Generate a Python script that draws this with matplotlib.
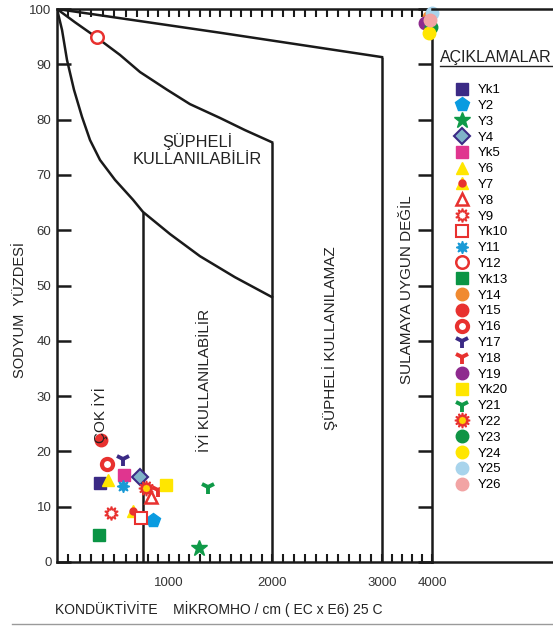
import numpy as np
import matplotlib.pyplot as plt
from matplotlib.lines import Line2D
from matplotlib.legend_handler import HandlerTuple

plt.rcParams['font.family'] = ['Liberation Sans', 'DejaVu Sans']

# water samples: conductivity (micromho/cm) and sodium percent
samples = ['Yk1', 'Y2', 'Y3', 'Y4', 'Yk5', 'Y6', 'Y7', 'Y8', 'Y9', 'Yk10',
           'Y11', 'Y12', 'Yk13', 'Y14', 'Y15', 'Y16', 'Y17', 'Y18', 'Y19',
           'Yk20', 'Y21', 'Y22', 'Y23', 'Y24', 'Y25', 'Y26']
ec = [375, 850, 1293, 724, 587, 447, 660, 832, 468, 730,
      573, 349, 369, 3940, 384, 433, 578, 898, 3860,
      973, 1383, 779, 3980, 3940, 4000, 3960]
na = [14.2, 7.6, 2.5, 15.4, 15.7, 14.8, 9.3, 11.7, 8.8, 7.9,
      13.7, 94.9, 4.9, 98.6, 22.1, 17.8, 18.7, 13.0, 97.5,
      13.9, 13.6, 13.3, 96.8, 95.6, 99.3, 98.0]

# class boundaries of the Wilcox diagram
curve1_ec = [0, 44, 87, 148, 218, 288, 375, 506, 663, 750, 1012, 1302, 1641, 2000]
curve1_na = [100, 96.2, 90.8, 85.4, 80.5, 76.3, 72.7, 69.1, 65.5, 63.3, 59.3, 55.3, 51.5, 47.9]
curve2_ec = [0, 157, 349, 549, 724, 983, 1205, 1496, 1738, 2000]
curve2_na = [100, 97.6, 94.8, 91.7, 88.6, 85.4, 82.8, 80.3, 78.1, 75.9]
curve3_ec = [0, 1500, 3000]
curve3_na = [100, 95.7, 91.3]
vline_ec = [750, 2000, 3000]
vline_top = [63.3, 75.9, 91.3]

# axis is stretched up to 3000 and squeezed after
EC_KNOTS = [0, 750, 2000, 3000, 4000, 8000]
PX_KNOTS = [0, 86, 215, 325, 375, 575]


def fwd(x):
    return np.interp(x, EC_KNOTS, PX_KNOTS)


def inv(p):
    return np.interp(p, PX_KNOTS, EC_KNOTS)


NAVY = '#3b2a85'
RED = '#e8312f'
GREEN = '#0f9a48'
YELLOW = '#ffe600'
BLUE = '#0a9be0'

styles = {
    'Yk1': dict(marker='s', ms=8, mfc=NAVY, mec=NAVY),
    'Y2': dict(marker='p', ms=10, mfc=BLUE, mec=BLUE),
    'Y3': dict(marker='*', ms=12, mfc=GREEN, mec=GREEN),
    'Y4': dict(marker='D', ms=8, mfc='#7fb3c8', mec=NAVY, mew=1.5),
    'Yk5': dict(marker='s', ms=8, mfc='#e0358f', mec='#e0358f'),
    'Y6': dict(marker='^', ms=9, mfc=YELLOW, mec=YELLOW),
    'Y7': dict(marker='^', ms=9, mfc=YELLOW, mec=YELLOW),
    'Y8': dict(marker='^', ms=8, mfc='white', mec=RED, mew=1.8),
    'Y9': dict(marker=(10, 1, 0), ms=10, mfc='white', mec=RED, mew=1.2),
    'Yk10': dict(marker='s', ms=8, mfc='white', mec=RED, mew=1.5),
    'Y11': dict(marker=(8, 1, 0), ms=9, mfc='#1a9ad6', mec='#1a9ad6'),
    'Y12': dict(marker='o', ms=9, mfc='white', mec=RED, mew=1.8),
    'Yk13': dict(marker='s', ms=8, mfc='#0a9444', mec='#0a9444'),
    'Y14': dict(marker='o', ms=9, mfc='#f08a30', mec='#f08a30'),
    'Y15': dict(marker='o', ms=9, mfc=RED, mec=RED),
    'Y16': dict(marker='o', ms=8, mfc='white', mec=RED, mew=3),
    'Y17': dict(marker='1', ms=10, mfc=NAVY, mec=NAVY, mew=2.8),
    'Y18': dict(marker='1', ms=10, mfc=RED, mec=RED, mew=2.8),
    'Y19': dict(marker='o', ms=9, mfc='#8e2a8e', mec='#8e2a8e'),
    'Yk20': dict(marker='s', ms=8, mfc=YELLOW, mec=YELLOW),
    'Y21': dict(marker='1', ms=10, mfc=GREEN, mec=GREEN, mew=2.8),
    'Y22': dict(marker=(12, 1, 0), ms=11, mfc='#ffd400', mec=RED, mew=1.2),
    'Y23': dict(marker='o', ms=9, mfc='#0f9444', mec='#0f9444'),
    'Y24': dict(marker='o', ms=9, mfc=YELLOW, mec=YELLOW),
    'Y25': dict(marker='o', ms=9, mfc='#a8d4ec', mec='#a8d4ec'),
    'Y26': dict(marker='o', ms=9, mfc='#f2a4a4', mec='#f2a4a4'),
}
dot7 = dict(marker='o', ms=5, mfc=RED, mec=RED)

fig = plt.figure(figsize=(5.53, 6.28), dpi=100)
ax = fig.add_axes([57 / 553, 66 / 628, 375 / 553, 553 / 628])
ax.set_xscale('function', functions=(fwd, inv))
ax.set_xlim(0, 4000)
ax.set_ylim(0, 100)

lc = '#1a1a1a'
lw = 1.8
ax.plot(curve1_ec, curve1_na, color=lc, lw=lw, solid_joinstyle='round')
ax.plot(curve2_ec, curve2_na, color=lc, lw=lw, solid_joinstyle='round')
ax.plot(curve3_ec, curve3_na, color=lc, lw=lw)
ax.vlines(vline_ec, 0, vline_top, color=lc, lw=lw)

handles = []
for name, x, y in zip(samples, ec, na):
    st = styles[name]
    ax.plot([x], [y], linestyle='none', clip_on=False, zorder=3, **st)
    h = Line2D([], [], linestyle='none', **st)
    if name == 'Y7':
        ax.plot([x], [y], linestyle='none', clip_on=False, zorder=3, **dot7)
        h = (h, Line2D([], [], linestyle='none', **dot7))
    handles.append(h)

for s in ax.spines.values():
    s.set_linewidth(lw)
    s.set_color(lc)

ax.set_xticks([1000, 2000, 3000, 4000])
ax.set_xticklabels(['1000', '2000', '3000', '4000'])
minor = [v for v in range(100, 3000, 100) if v not in (1000, 2000)] + [3200, 3400, 3600, 3800]
ax.set_xticks(minor, minor=True)
ax.tick_params(axis='x', which='both', direction='in', top=True, bottom=True,
               length=6, width=1.5, color=lc, labelsize=9.5, pad=10.5, labelcolor='#333333')
ax.set_yticks(range(0, 101, 10))
ax.tick_params(axis='y', direction='in', left=True, right=True, length=10, width=1.8,
               color=lc, labelsize=9.5, pad=4, labelcolor='#333333')

tc = '#222222'
ax.text(1273, 74.5, 'ŞÜPHELİ\nKULLANILABİLİR', ha='center', va='center', fontsize=11.8,
        color=tc, linespacing=1.1)
ax.text(1351, 32.9, 'İYİ KULLANILABİLİR', rotation=90, ha='center', va='center',
        fontsize=11, color=tc)
ax.text(375, 26.5, 'ÇOK İYİ', rotation=90, ha='center', va='center', fontsize=11, color=tc)
ax.text(2527, 40.5, 'ŞÜPHELİ KULLANILAMAZ', rotation=90, ha='center', va='center',
        fontsize=11, color=tc)
ax.text(3500, 49.2, 'SULAMAYA UYGUN DEĞİL', rotation=90, ha='center', va='center',
        fontsize=11, color=tc)

ax.set_ylabel('SODYUM  YÜZDESİ', fontsize=10.5, color=tc)
ax.yaxis.set_label_coords(-(57 - 27) / 375, (562 - 310) / 553)
fig.text(55 / 553, 1 - 609 / 628, 'KONDÜKTİVİTE    MİKROMHO / cm ( EC x E6) 25 C',
         fontsize=10, color=tc, va='center')

# frame continues around the legend area
for yy in (1 - 9 / 628, 66 / 628):
    fig.add_artist(Line2D([432 / 553, 1], [yy, yy], color=lc, lw=lw,
                          transform=fig.transFigure))
fig.add_artist(Line2D([12 / 553, 1], [1 - 624 / 628] * 2, color='#9a9a9a', lw=1,
                      transform=fig.transFigure))

fig.text(440 / 553, 1 - 62 / 628, 'AÇIKLAMALAR', fontsize=11.5, color=tc, va='baseline')
fig.add_artist(Line2D([440 / 553, 1], [1 - 65.5 / 628] * 2, color=tc, lw=1,
                      transform=fig.transFigure))

fig.legend(handles, samples, loc='upper left', bbox_to_anchor=(455 / 553, 1 - 84 / 628),
           frameon=False, fontsize=9.5, handlelength=1.0, handletextpad=0.7,
           labelspacing=0.27, borderpad=0, borderaxespad=0,
           handler_map={tuple: HandlerTuple(ndivide=1)})

fig.savefig('out.png', dpi=100)
